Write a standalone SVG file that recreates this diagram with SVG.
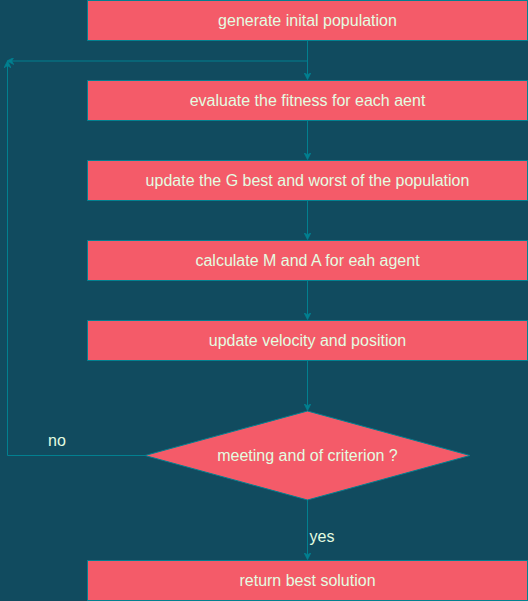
<svg xmlns="http://www.w3.org/2000/svg" width="528" height="601" viewBox="0 0 528 601">
<defs>
<style>
.box{fill:#F45B69;stroke:#028090;stroke-width:1}
.lbl{font-family:"Liberation Sans",Arial,sans-serif;font-size:16px;fill:#E4FDE1;text-anchor:middle;dominant-baseline:central}
.edge{fill:none;stroke:#028090;stroke-width:1}
</style>
<marker id="ah" viewBox="0 0 10 10" refX="9" refY="5" markerWidth="7" markerHeight="7" orient="auto" markerUnits="userSpaceOnUse">
<path d="M0,0 L10,5 L0,10 L3,5 Z" fill="#028090" stroke="#028090"/>
</marker>
</defs>
<rect x="0" y="0" width="528" height="601" fill="#114B5F"/>
<g id="connectors">
<path class="edge" d="M307.5,40.5 V79" marker-end="url(#ah)"/>
<path class="edge" d="M307.5,61 H7.5" marker-end="url(#ah)"/>
<path class="edge" d="M307.5,120.5 V159" marker-end="url(#ah)"/>
<path class="edge" d="M307.5,200.5 V239" marker-end="url(#ah)"/>
<path class="edge" d="M307.5,280.5 V319" marker-end="url(#ah)"/>
<path class="edge" d="M307.5,360.5 V410" marker-end="url(#ah)"/>
<path class="edge" d="M145,455.5 H7.5 V61.5" marker-end="url(#ah)"/>
<path class="edge" d="M307.5,500 V559" marker-end="url(#ah)"/>
<text class="lbl" x="57" y="440">no</text>
<text class="lbl" x="322" y="536">yes</text>
</g>
<g id="n1"><rect class="box" x="87.5" y="0.5" width="440" height="40"/><text class="lbl" x="307.5" y="20.5">generate inital population</text></g>
<g id="n2"><rect class="box" x="87.5" y="80.5" width="440" height="40"/><text class="lbl" x="307.5" y="100.5">evaluate the fitness for each aent</text></g>
<g id="n3"><rect class="box" x="87.5" y="160.5" width="440" height="40"/><text class="lbl" x="307.5" y="180.5">update the G best and worst of the population</text></g>
<g id="n4"><rect class="box" x="87.5" y="240.5" width="440" height="40"/><text class="lbl" x="307.5" y="260.5">calculate M and A for eah agent</text></g>
<g id="n5"><rect class="box" x="87.5" y="320.5" width="440" height="40"/><text class="lbl" x="307.5" y="340.5">update velocity and position</text></g>
<g id="n6"><polygon class="box" points="307.5,411 470,455.5 307.5,500 145,455.5"/><text class="lbl" x="307.5" y="455.5">meeting and of criterion ?</text></g>
<g id="n7"><rect class="box" x="87.5" y="560.5" width="440" height="40"/><text class="lbl" x="307.5" y="580.5">return best solution</text></g>
</svg>
